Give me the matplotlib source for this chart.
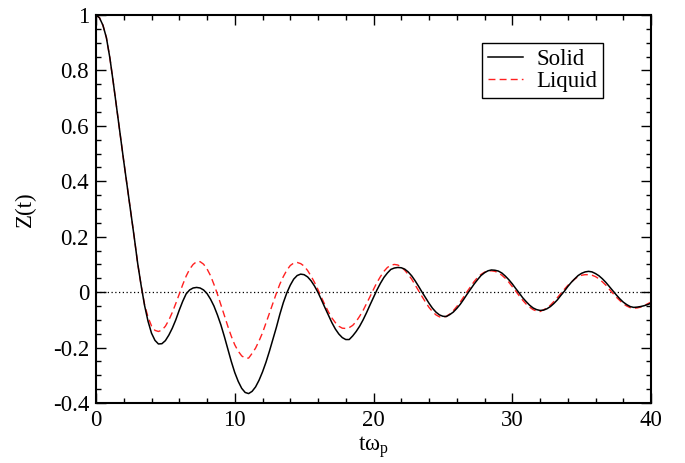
import numpy as np
import matplotlib
matplotlib.use("Agg")
import matplotlib.pyplot as plt
from matplotlib.ticker import MultipleLocator, FuncFormatter

plt.rcParams['font.family'] = ['Liberation Serif', 'DejaVu Serif']
plt.rcParams['mathtext.fontset'] = 'custom'
plt.rcParams['mathtext.rm'] = 'Liberation Serif'
plt.rcParams['mathtext.it'] = 'Liberation Serif:italic'
plt.rcParams['axes.unicode_minus'] = False

# time axis (t * omega_p), sampled every 0.25
t_vals = [i * 0.25 for i in range(161)]

solid = [
    1.000, 0.990, 0.963, 0.918, 0.845, 0.755, 0.660, 0.565, 0.472, 0.381, 0.290, 0.200,
    0.105, 0.025, -0.048, -0.105, -0.148, -0.174, -0.187, -0.186, -0.175, -0.155, -0.130, -0.100,
    -0.065, -0.033, -0.006, 0.008, 0.015, 0.017, 0.015, 0.008, -0.005, -0.025, -0.050, -0.082,
    -0.118, -0.160, -0.205, -0.250, -0.290, -0.322, -0.347, -0.362, -0.366, -0.358, -0.342, -0.318,
    -0.288, -0.253, -0.213, -0.170, -0.127, -0.080, -0.038, -0.003, 0.025, 0.047, 0.060, 0.065,
    0.063, 0.055, 0.041, 0.022, -0.001, -0.028, -0.056, -0.083, -0.110, -0.133, -0.151, -0.164,
    -0.171, -0.171, -0.158, -0.142, -0.123, -0.100, -0.074, -0.046, -0.019, 0.008, 0.032, 0.053,
    0.069, 0.082, 0.087, 0.089, 0.088, 0.083, 0.073, 0.059, 0.041, 0.021, 0.000, -0.020,
    -0.040, -0.058, -0.072, -0.082, -0.087, -0.088, -0.081, -0.072, -0.059, -0.044, -0.026, -0.007,
    0.011, 0.029, 0.045, 0.060, 0.070, 0.077, 0.080, 0.079, 0.076, 0.069, 0.058, 0.045,
    0.030, 0.013, -0.003, -0.020, -0.034, -0.047, -0.057, -0.063, -0.066, -0.065, -0.060, -0.052,
    -0.041, -0.028, -0.012, 0.003, 0.020, 0.035, 0.048, 0.060, 0.068, 0.073, 0.075, 0.073,
    0.067, 0.059, 0.048, 0.035, 0.020, 0.005, -0.010, -0.024, -0.036, -0.045, -0.052, -0.055,
    -0.054, -0.052, -0.049, -0.045, -0.040,
]

liquid = [
    1.000, 0.990, 0.963, 0.918, 0.845, 0.755, 0.660, 0.565, 0.472, 0.381, 0.290, 0.200,
    0.105, 0.025, -0.045, -0.090, -0.122, -0.138, -0.142, -0.137, -0.123, -0.101, -0.073, -0.041,
    -0.007, 0.027, 0.058, 0.083, 0.100, 0.110, 0.110, 0.101, 0.084, 0.060, 0.028, -0.007,
    -0.045, -0.084, -0.123, -0.159, -0.190, -0.213, -0.230, -0.238, -0.238, -0.221, -0.202, -0.176,
    -0.147, -0.112, -0.076, -0.040, -0.004, 0.029, 0.056, 0.079, 0.096, 0.105, 0.107, 0.103,
    0.094, 0.078, 0.058, 0.035, 0.009, -0.019, -0.046, -0.071, -0.093, -0.110, -0.123, -0.130,
    -0.131, -0.128, -0.120, -0.106, -0.087, -0.066, -0.041, -0.016, 0.010, 0.035, 0.056, 0.075,
    0.089, 0.097, 0.100, 0.098, 0.091, 0.079, 0.064, 0.047, 0.026, 0.005, -0.016, -0.036,
    -0.055, -0.070, -0.082, -0.089, -0.092, -0.087, -0.079, -0.067, -0.052, -0.036, -0.017, 0.002,
    0.020, 0.038, 0.053, 0.064, 0.072, 0.077, 0.077, 0.075, 0.070, 0.061, 0.050, 0.036,
    0.020, 0.004, -0.013, -0.029, -0.043, -0.054, -0.063, -0.068, -0.070, -0.064, -0.057, -0.047,
    -0.034, -0.020, -0.005, 0.010, 0.024, 0.036, 0.047, 0.056, 0.061, 0.063, 0.063, 0.061,
    0.056, 0.048, 0.037, 0.025, 0.010, -0.004, -0.018, -0.030, -0.042, -0.050, -0.056, -0.058,
    -0.057, -0.054, -0.049, -0.042, -0.036,
]

x_ticks = [0, 10, 20, 30, 40]
y_ticks = [-0.4, -0.2, 0, 0.2, 0.4, 0.6, 0.8, 1]

FS = 16.5

fig = plt.figure(figsize=(6.85, 4.63), dpi=100)
ax = fig.add_axes([96 / 685, 60 / 463, 555 / 685, 388 / 463])

ax.axhline(0, color='black', lw=0.9, ls=(0, (1, 2)), zorder=1)
ax.plot(t_vals, solid, color='black', lw=1.1, label='Solid', zorder=3)
ax.plot(t_vals, liquid, color='#ff2020', lw=1.0, ls=(0, (5, 3)), label='Liquid', zorder=2)

ax.set_xlim(0, 40)
ax.set_ylim(-0.4, 1.0)
ax.set_xticks(x_ticks)
ax.set_yticks(y_ticks)
ax.xaxis.set_minor_locator(MultipleLocator(2))
ax.yaxis.set_minor_locator(MultipleLocator(0.05))
fmt = FuncFormatter(lambda v, p: '%g' % round(v, 6))
ax.xaxis.set_major_formatter(fmt)
ax.yaxis.set_major_formatter(fmt)

ax.tick_params(which='both', direction='in', top=True, right=True, width=1.0,
               labelsize=FS, color='black')
ax.tick_params(which='major', length=7)
ax.tick_params(axis='x', which='major', pad=5)
ax.tick_params(axis='y', which='major', pad=5)
ax.tick_params(which='minor', length=3.6)
for s in ax.spines.values():
    s.set_linewidth(1.5)

ax.set_xlabel(r'tω$_{\mathrm{p}}$', fontsize=FS, labelpad=2)
ax.set_ylabel('Z(t)', fontsize=FS, labelpad=12)

leg = ax.legend(loc='upper right', bbox_to_anchor=(0.9135, 0.928), fontsize=FS,
                frameon=True, fancybox=False, edgecolor='black', framealpha=1,
                handlelength=1.5, handletextpad=0.6, labelspacing=0.05,
                borderpad=0.25, borderaxespad=0)
leg.get_frame().set_linewidth(1.0)

fig.savefig('out.png', dpi=100)
